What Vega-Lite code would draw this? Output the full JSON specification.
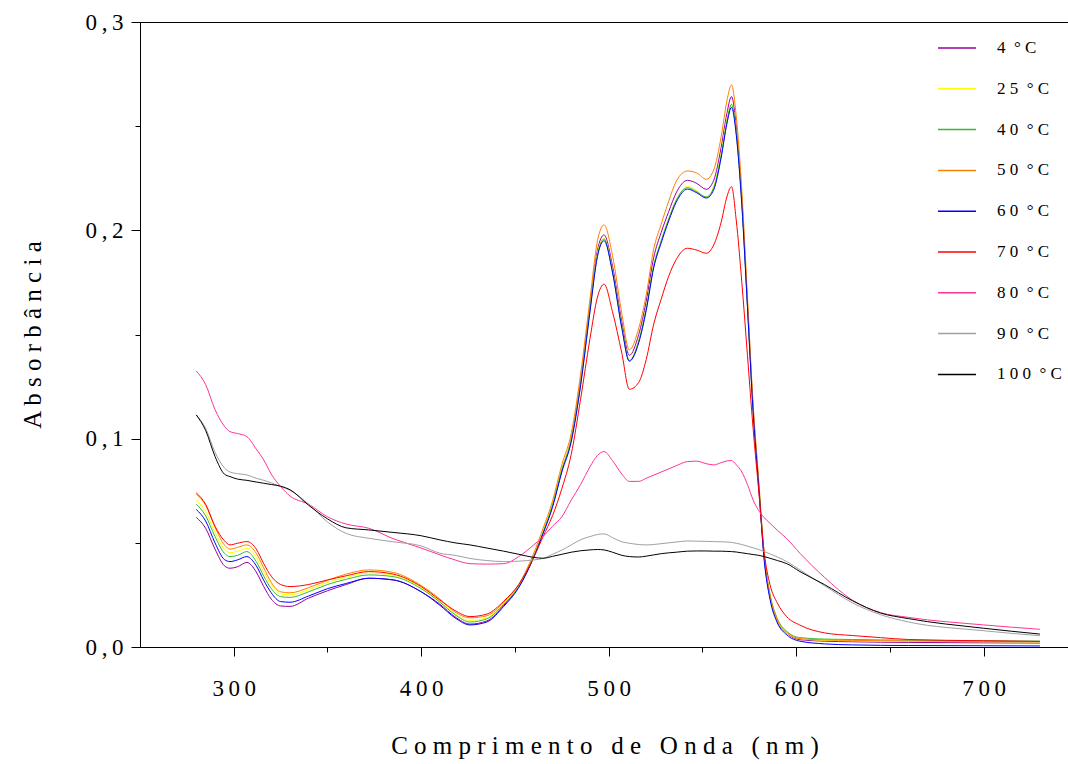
{
  "$schema": "https://vega.github.io/schema/vega-lite/v6.json",
  "width": 929,
  "height": 625,
  "autosize": {"type": "none"},
  "padding": {"left": 140, "top": 22, "right": 0, "bottom": 117},
  "background": "white",
  "config": {
    "view": {"stroke": "black", "strokeWidth": 1},
    "font": "'Liberation Serif', 'Times New Roman', Times, serif",
    "axis": {
      "domainColor": "black", "domainWidth": 1, "tickColor": "black", "tickWidth": 1,
      "labelColor": "black", "titleColor": "black",
      "labelFont": "'Liberation Serif', 'Times New Roman', Times, serif", "titleFont": "'Liberation Serif', 'Times New Roman', Times, serif",
      "titleFontWeight": "normal", "grid": false, "labelOverlap": false, "labelBound": false, "labelFlush": false
    }
  },
  "data": {
    "values": [
      {"nm":280,"c4":0.0622,"c25":0.0706,"c40":0.0686,"c50":0.0735,"c60":0.0660,"c70":0.0740,"c80":0.1325,"c90":0.1114,"c100":0.1114},
      {"nm":285,"c4":0.0570,"c25":0.0650,"c40":0.0630,"c50":0.0680,"c60":0.0605,"c70":0.0685,"c80":0.1260,"c90":0.1050,"c100":0.1040},
      {"nm":290,"c4":0.0470,"c25":0.0550,"c40":0.0530,"c50":0.0575,"c60":0.0500,"c70":0.0580,"c80":0.1140,"c90":0.0935,"c100":0.0915},
      {"nm":295,"c4":0.0390,"c25":0.0470,"c40":0.0450,"c50":0.0490,"c60":0.0420,"c70":0.0510,"c80":0.1060,"c90":0.0860,"c100":0.0830},
      {"nm":298,"c4":0.0378,"c25":0.0453,"c40":0.0434,"c50":0.0470,"c60":0.0410,"c70":0.0490,"c80":0.1034,"c90":0.0840,"c100":0.0818},
      {"nm":302,"c4":0.0385,"c25":0.0460,"c40":0.0440,"c50":0.0478,"c60":0.0418,"c70":0.0498,"c80":0.1025,"c90":0.0832,"c100":0.0806},
      {"nm":307,"c4":0.0406,"c25":0.0474,"c40":0.0458,"c50":0.0490,"c60":0.0434,"c70":0.0506,"c80":0.1010,"c90":0.0826,"c100":0.0800},
      {"nm":312,"c4":0.0360,"c25":0.0430,"c40":0.0410,"c50":0.0450,"c60":0.0390,"c70":0.0470,"c80":0.0950,"c90":0.0810,"c100":0.0792},
      {"nm":316,"c4":0.0290,"c25":0.0360,"c40":0.0340,"c50":0.0380,"c60":0.0320,"c70":0.0400,"c80":0.0898,"c90":0.0800,"c100":0.0786},
      {"nm":320,"c4":0.0230,"c25":0.0300,"c40":0.0280,"c50":0.0310,"c60":0.0260,"c70":0.0340,"c80":0.0830,"c90":0.0788,"c100":0.0780},
      {"nm":325,"c4":0.0197,"c25":0.0255,"c40":0.0242,"c50":0.0265,"c60":0.0218,"c70":0.0300,"c80":0.0770,"c90":0.0770,"c100":0.0772},
      {"nm":330,"c4":0.0195,"c25":0.0250,"c40":0.0238,"c50":0.0260,"c60":0.0215,"c70":0.0290,"c80":0.0725,"c90":0.0752,"c100":0.0755},
      {"nm":340,"c4":0.0235,"c25":0.0275,"c40":0.0265,"c50":0.0285,"c60":0.0245,"c70":0.0300,"c80":0.0685,"c90":0.0685,"c100":0.0680},
      {"nm":350,"c4":0.0270,"c25":0.0310,"c40":0.0300,"c50":0.0320,"c60":0.0280,"c70":0.0322,"c80":0.0625,"c90":0.0600,"c100":0.0615},
      {"nm":360,"c4":0.0300,"c25":0.0335,"c40":0.0325,"c50":0.0350,"c60":0.0305,"c70":0.0342,"c80":0.0590,"c90":0.0545,"c100":0.0572},
      {"nm":372,"c4":0.0330,"c25":0.0355,"c40":0.0346,"c50":0.0370,"c60":0.0330,"c70":0.0362,"c80":0.0570,"c90":0.0522,"c100":0.0562},
      {"nm":385,"c4":0.0322,"c25":0.0345,"c40":0.0338,"c50":0.0358,"c60":0.0322,"c70":0.0350,"c80":0.0520,"c90":0.0505,"c100":0.0550},
      {"nm":400,"c4":0.0265,"c25":0.0285,"c40":0.0280,"c50":0.0295,"c60":0.0265,"c70":0.0290,"c80":0.0475,"c90":0.0485,"c100":0.0534},
      {"nm":410,"c4":0.0205,"c25":0.0220,"c40":0.0215,"c50":0.0230,"c60":0.0200,"c70":0.0225,"c80":0.0442,"c90":0.0450,"c100":0.0514},
      {"nm":418,"c4":0.0145,"c25":0.0160,"c40":0.0155,"c50":0.0168,"c60":0.0140,"c70":0.0175,"c80":0.0418,"c90":0.0440,"c100":0.0500},
      {"nm":426,"c4":0.0110,"c25":0.0128,"c40":0.0120,"c50":0.0140,"c60":0.0106,"c70":0.0146,"c80":0.0400,"c90":0.0425,"c100":0.0490},
      {"nm":435,"c4":0.0125,"c25":0.0140,"c40":0.0135,"c50":0.0150,"c60":0.0120,"c70":0.0158,"c80":0.0398,"c90":0.0415,"c100":0.0475},
      {"nm":444,"c4":0.0200,"c25":0.0210,"c40":0.0205,"c50":0.0215,"c60":0.0195,"c70":0.0220,"c80":0.0400,"c90":0.0410,"c100":0.0460},
      {"nm":452,"c4":0.0290,"c25":0.0295,"c40":0.0290,"c50":0.0300,"c60":0.0285,"c70":0.0300,"c80":0.0434,"c90":0.0412,"c100":0.0445},
      {"nm":460,"c4":0.0434,"c25":0.0440,"c40":0.0435,"c50":0.0450,"c60":0.0430,"c70":0.0430,"c80":0.0490,"c90":0.0418,"c100":0.0430},
      {"nm":465,"c4":0.0550,"c25":0.0555,"c40":0.0550,"c50":0.0570,"c60":0.0545,"c70":0.0530,"c80":0.0530,"c90":0.0425,"c100":0.0426},
      {"nm":470,"c4":0.0680,"c25":0.0685,"c40":0.0680,"c50":0.0700,"c60":0.0670,"c70":0.0630,"c80":0.0580,"c90":0.0445,"c100":0.0435},
      {"nm":475,"c4":0.0850,"c25":0.0855,"c40":0.0850,"c50":0.0875,"c60":0.0840,"c70":0.0760,"c80":0.0625,"c90":0.0465,"c100":0.0445},
      {"nm":480,"c4":0.1000,"c25":0.1000,"c40":0.0995,"c50":0.1025,"c60":0.0985,"c70":0.0925,"c80":0.0705,"c90":0.0490,"c100":0.0455},
      {"nm":485,"c4":0.1280,"c25":0.1270,"c40":0.1260,"c50":0.1310,"c60":0.1255,"c70":0.1190,"c80":0.0780,"c90":0.0515,"c100":0.0462},
      {"nm":490,"c4":0.1640,"c25":0.1625,"c40":0.1615,"c50":0.1670,"c60":0.1610,"c70":0.1480,"c80":0.0865,"c90":0.0530,"c100":0.0466},
      {"nm":494,"c4":0.1905,"c25":0.1890,"c40":0.1880,"c50":0.1950,"c60":0.1875,"c70":0.1680,"c80":0.0920,"c90":0.0540,"c100":0.0468},
      {"nm":497.5,"c4":0.1978,"c25":0.1962,"c40":0.1958,"c50":0.2026,"c60":0.1950,"c70":0.1742,"c80":0.0938,"c90":0.0543,"c100":0.0466},
      {"nm":502,"c4":0.1830,"c25":0.1810,"c40":0.1800,"c50":0.1880,"c60":0.1800,"c70":0.1610,"c80":0.0895,"c90":0.0525,"c100":0.0455},
      {"nm":507,"c4":0.1560,"c25":0.1540,"c40":0.1535,"c50":0.1600,"c60":0.1530,"c70":0.1410,"c80":0.0830,"c90":0.0505,"c100":0.0440},
      {"nm":511,"c4":0.1400,"c25":0.1378,"c40":0.1375,"c50":0.1426,"c60":0.1372,"c70":0.1237,"c80":0.0795,"c90":0.0498,"c100":0.0434},
      {"nm":516,"c4":0.1500,"c25":0.1470,"c40":0.1470,"c50":0.1530,"c60":0.1460,"c70":0.1270,"c80":0.0795,"c90":0.0492,"c100":0.0432},
      {"nm":520,"c4":0.1660,"c25":0.1625,"c40":0.1625,"c50":0.1690,"c60":0.1615,"c70":0.1380,"c80":0.0810,"c90":0.0490,"c100":0.0436},
      {"nm":524,"c4":0.1870,"c25":0.1830,"c40":0.1830,"c50":0.1910,"c60":0.1820,"c70":0.1550,"c80":0.0825,"c90":0.0492,"c100":0.0442},
      {"nm":528,"c4":0.1990,"c25":0.1950,"c40":0.1950,"c50":0.2030,"c60":0.1940,"c70":0.1670,"c80":0.0840,"c90":0.0496,"c100":0.0448},
      {"nm":532,"c4":0.2090,"c25":0.2055,"c40":0.2055,"c50":0.2140,"c60":0.2045,"c70":0.1780,"c80":0.0855,"c90":0.0500,"c100":0.0452},
      {"nm":536,"c4":0.2180,"c25":0.2145,"c40":0.2145,"c50":0.2235,"c60":0.2135,"c70":0.1860,"c80":0.0870,"c90":0.0504,"c100":0.0455},
      {"nm":542,"c4":0.2240,"c25":0.2210,"c40":0.2205,"c50":0.2285,"c60":0.2198,"c70":0.1914,"c80":0.0890,"c90":0.0509,"c100":0.0460},
      {"nm":547,"c4":0.2225,"c25":0.2190,"c40":0.2185,"c50":0.2275,"c60":0.2180,"c70":0.1905,"c80":0.0892,"c90":0.0508,"c100":0.0461},
      {"nm":552,"c4":0.2197,"c25":0.2160,"c40":0.2160,"c50":0.2245,"c60":0.2155,"c70":0.1890,"c80":0.0880,"c90":0.0507,"c100":0.0461},
      {"nm":556,"c4":0.2240,"c25":0.2210,"c40":0.2205,"c50":0.2290,"c60":0.2195,"c70":0.1930,"c80":0.0874,"c90":0.0506,"c100":0.0460},
      {"nm":560,"c4":0.2400,"c25":0.2370,"c40":0.2360,"c50":0.2450,"c60":0.2350,"c70":0.2040,"c80":0.0885,"c90":0.0505,"c100":0.0460},
      {"nm":563,"c4":0.2560,"c25":0.2530,"c40":0.2520,"c50":0.2620,"c60":0.2510,"c70":0.2160,"c80":0.0893,"c90":0.0504,"c100":0.0459},
      {"nm":565.5,"c4":0.2642,"c25":0.2605,"c40":0.2605,"c50":0.2698,"c60":0.2590,"c70":0.2210,"c80":0.0895,"c90":0.0502,"c100":0.0458},
      {"nm":568,"c4":0.2500,"c25":0.2470,"c40":0.2470,"c50":0.2550,"c60":0.2460,"c70":0.2050,"c80":0.0875,"c90":0.0498,"c100":0.0456},
      {"nm":571,"c4":0.2150,"c25":0.2130,"c40":0.2130,"c50":0.2190,"c60":0.2120,"c70":0.1750,"c80":0.0840,"c90":0.0492,"c100":0.0452},
      {"nm":574,"c4":0.1650,"c25":0.1640,"c40":0.1640,"c50":0.1680,"c60":0.1630,"c70":0.1400,"c80":0.0780,"c90":0.0484,"c100":0.0448},
      {"nm":577,"c4":0.1150,"c25":0.1140,"c40":0.1140,"c50":0.1170,"c60":0.1130,"c70":0.1050,"c80":0.0706,"c90":0.0476,"c100":0.0444},
      {"nm":580,"c4":0.0780,"c25":0.0780,"c40":0.0785,"c50":0.0800,"c60":0.0770,"c70":0.0750,"c80":0.0655,"c90":0.0468,"c100":0.0440},
      {"nm":583,"c4":0.0420,"c25":0.0425,"c40":0.0430,"c50":0.0435,"c60":0.0410,"c70":0.0450,"c80":0.0620,"c90":0.0458,"c100":0.0434},
      {"nm":586,"c4":0.0240,"c25":0.0245,"c40":0.0255,"c50":0.0250,"c60":0.0230,"c70":0.0300,"c80":0.0594,"c90":0.0447,"c100":0.0426},
      {"nm":590,"c4":0.0120,"c25":0.0125,"c40":0.0135,"c50":0.0130,"c60":0.0115,"c70":0.0210,"c80":0.0560,"c90":0.0432,"c100":0.0415},
      {"nm":595,"c4":0.0066,"c25":0.0068,"c40":0.0075,"c50":0.0072,"c60":0.0058,"c70":0.0145,"c80":0.0520,"c90":0.0410,"c100":0.0400},
      {"nm":602,"c4":0.0035,"c25":0.0040,"c40":0.0045,"c50":0.0040,"c60":0.0028,"c70":0.0105,"c80":0.0450,"c90":0.0370,"c100":0.0362},
      {"nm":615,"c4":0.0028,"c25":0.0032,"c40":0.0038,"c50":0.0034,"c60":0.0015,"c70":0.0068,"c80":0.0335,"c90":0.0295,"c100":0.0300},
      {"nm":630,"c4":0.0025,"c25":0.0030,"c40":0.0036,"c50":0.0032,"c60":0.0010,"c70":0.0055,"c80":0.0225,"c90":0.0212,"c100":0.0222},
      {"nm":645,"c4":0.0023,"c25":0.0028,"c40":0.0034,"c50":0.0030,"c60":0.0008,"c70":0.0045,"c80":0.0165,"c90":0.0155,"c100":0.0163},
      {"nm":660,"c4":0.0022,"c25":0.0027,"c40":0.0032,"c50":0.0029,"c60":0.0007,"c70":0.0036,"c80":0.0142,"c90":0.0120,"c100":0.0136},
      {"nm":700,"c4":0.0020,"c25":0.0025,"c40":0.0030,"c50":0.0027,"c60":0.0006,"c70":0.0030,"c80":0.0106,"c90":0.0078,"c100":0.0090},
      {"nm":730,"c4":0.0019,"c25":0.0024,"c40":0.0028,"c50":0.0026,"c60":0.0005,"c70":0.0027,"c80":0.0085,"c90":0.0054,"c100":0.0062}
    ]
  },
  "transform": [
    {"fold": ["c4", "c25", "c40", "c50", "c60", "c70", "c80", "c90", "c100"], "as": ["serie", "A"]}
  ],
  "mark": {"type": "line", "strokeWidth": 1, "interpolate": "monotone", "clip": true},
  "encoding": {
    "x": {
      "field": "nm", "type": "quantitative",
      "scale": {"domain": [250, 745.5], "nice": false, "zero": false},
      "axis": {
        "title": "C o m p r i m e n t o \u00a0 d e \u00a0 O n d a \u00a0 ( n m )",
        "titleFontSize": 25, "titleY": 86,
        "values": [300, 350, 400, 450, 500, 550, 600, 650, 700],
        "tickSize": {"condition": {"test": "datum.value % 100 !== 0", "value": 5}, "value": 9},
        "labelExpr": "datum.value % 100 === 0 ? join(split(datum.label, ''), '\u2009') : ''",
        "labelFontSize": 23, "labelPadding": 21
      }
    },
    "y": {
      "field": "A", "type": "quantitative",
      "scale": {"domain": [0, 0.3], "nice": false},
      "axis": {
        "title": "A b s o r b â n c i a",
        "titleFontSize": 25, "titleX": -108, "titleBaseline": "middle",
        "values": [0, 0.05, 0.1, 0.15, 0.2, 0.25, 0.3],
        "tickSize": {"condition": {"test": "abs(datum.value * 10 - round(datum.value * 10)) > 0.01", "value": 5}, "value": 9},
        "labelExpr": "abs(datum.value * 10 - round(datum.value * 10)) < 0.01 ? join(split(replace(format(datum.value, '.1f'), '.', ','), ''), '\u2009') : ''",
        "labelFontSize": 23, "labelPadding": 8
      }
    },
    "color": {
      "field": "serie", "type": "nominal",
      "scale": {
        "domain": ["c4", "c25", "c40", "c50", "c60", "c70", "c80", "c90", "c100"],
        "range": ["#990099", "#ffff00", "#33bb33", "#ff8000", "#0000ff", "#ff0000", "#ff3399", "#a0a0a0", "#000000"]
      },
      "legend": {
        "title": null, "orient": "none", "legendX": 797, "legendY": 6, "padding": 0,
        "symbolType": "stroke", "symbolSize": 1444, "symbolStrokeWidth": 1.5,
        "labelFont": "'Liberation Serif', 'Times New Roman', Times, serif", "labelFontSize": 17, "labelColor": "black", "labelOffset": 20,
        "rowPadding": 12.8,
        "labelExpr": "join(split(slice(datum.label, 1), ''), ' ') + ' \u00a0° C'"
      }
    }
  }
}
